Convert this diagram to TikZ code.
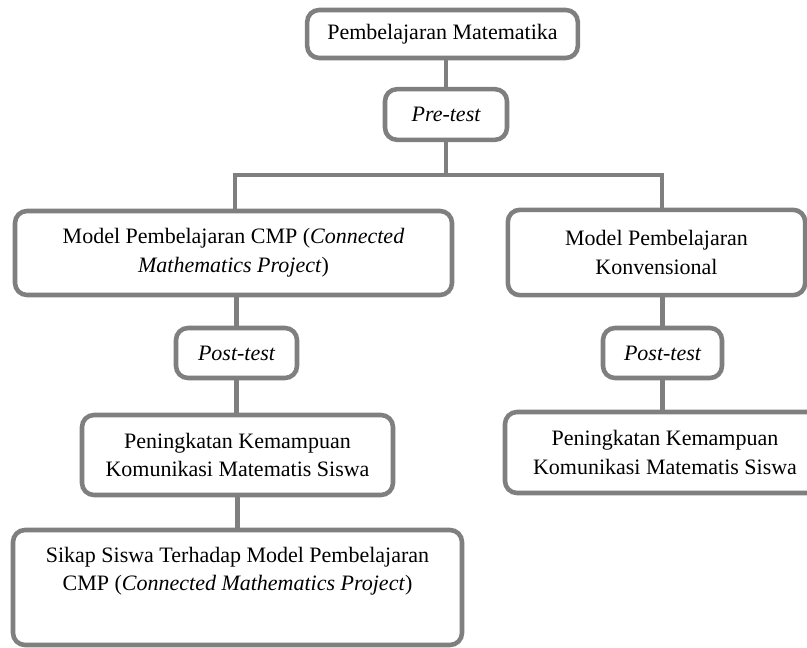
\documentclass[tikz,border=0pt]{standalone}
\usepackage{fontspec}
\setmainfont{Liberation Serif}
\definecolor{boxgray}{HTML}{7F7F7F}
\begin{document}
\begin{tikzpicture}[x=0.75pt,y=-0.75pt,
  box/.style={draw=boxgray, line width=3.4pt, rounded corners=9pt, fill=white,
    align=center, inner sep=0pt, font=\fontsize{16.5}{21.6}\selectfont},
  link/.style={draw=boxgray, line width=3.4pt}]
\useasboundingbox (0,0) rectangle (807,648);
\node[box, minimum width=203pt, minimum height=36pt] (top) at (442.5,34) {Pembelajaran Matematika};
\node[box, minimum width=91.5pt, minimum height=38pt] (pre) at (446,114.5) {\itshape Pre-test};
\coordinate (hl) at (235,175);
\coordinate (hr) at (662,175);
\node[box, minimum width=327.75pt, minimum height=63pt] (lm) at (233.5,253) {Model Pembelajaran CMP (\textit{Connected}\\\textit{Mathematics Project})};
\node[box, minimum width=223pt, minimum height=64pt] (rm) at (656.5,252.5) {Model Pembelajaran\\Konvensional};
\node[box, minimum width=90.75pt, minimum height=37.5pt] (pl) at (236.5,353) {\itshape Post-test};
\node[box, minimum width=89.25pt, minimum height=37.5pt] (pr) at (662.5,353) {\itshape Post-test};
\node[box, minimum width=233.25pt, minimum height=60pt] (kl) at (237.5,455) {Peningkatan Kemampuan\\Komunikasi Matematis Siswa};
\node[box, minimum width=240pt, minimum height=60.75pt] (kr) at (665,452.5) {Peningkatan Kemampuan\\Komunikasi Matematis Siswa};
\node[box, minimum width=336.75pt, minimum height=86.25pt] (sk) at (237.5,587.5) {Sikap Siswa Terhadap Model Pembelajaran\\CMP (\textit{Connected Mathematics Project})\\\strut};
\draw[link] (pre.north) -- (pre.north |- top.south);
\draw[link] (pre.south) -- (pre.south |- hl);
\draw[link, line cap=rect] (hl) -- (hr);
\draw[link] (hl) -- (hl |- lm.north);
\draw[link] (hr) -- (hr |- rm.north);
\draw[link] (pl.north) -- (pl.north |- lm.south);
\draw[link] (pl.south) -- (pl.south |- kl.north);
\draw[link] (kl.south) -- (kl.south |- sk.north);
\draw[link] (pr.north) -- (pr.north |- rm.south);
\draw[link] (pr.south) -- (pr.south |- kr.north);
\end{tikzpicture}
\end{document}
